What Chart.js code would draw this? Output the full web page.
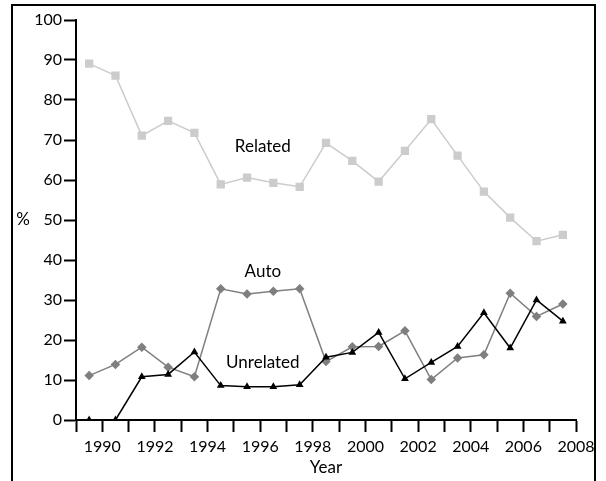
<!DOCTYPE html>
<html>
<head>
<meta charset="utf-8">
<script src="https://cdn.jsdelivr.net/npm/chart.js@4/dist/chart.umd.min.js"></script>
<style>
  html, body { margin: 0; padding: 0; background: #fff; }
  #wrap { width: 606px; height: 481px; position: relative; }
</style>
</head>
<body>
<div id="wrap"><canvas id="chart" width="606" height="481"></canvas></div>
<script>
// Data (points sit mid-year)
const years = [1989.5, 1990.5, 1991.5, 1992.5, 1993.5, 1994.5, 1995.5, 1996.5, 1997.5, 1998.5,
               1999.5, 2000.5, 2001.5, 2002.5, 2003.5, 2004.5, 2005.5, 2006.5, 2007.5];
const related = [89.1, 86.1, 71.1, 74.8, 71.8, 58.9, 60.6, 59.3, 58.3, 69.3,
                 64.8, 59.6, 67.3, 75.2, 66.1, 57.1, 50.6, 44.7, 46.3];
const auto = [11.1, 13.9, 18.2, 13.2, 10.8, 32.8, 31.5, 32.2, 32.8, 14.6,
              18.3, 18.4, 22.3, 10.1, 15.5, 16.3, 31.7, 25.9, 29.0];
const unrelated = [0, 0, 10.8, 11.4, 17.0, 8.6, 8.3, 8.3, 8.8, 15.7,
                   16.9, 21.9, 10.3, 14.4, 18.4, 26.8, 18.0, 30.0, 24.7];

const seriesLabels = [
  { text: 'Related', x: 1996.1, y: 68.3 },
  { text: 'Auto', x: 1996.1, y: 37 },
  { text: 'Unrelated', x: 1996.1, y: 14.3 }
];

const FONT = 'Lato, "DejaVu Sans", sans-serif';

function toPoints(vals) {
  return vals.map((v, i) => ({ x: years[i], y: v }));
}

// frame, in-plot labels, "%" and "Year"
const decor = {
  id: 'decor',
  beforeDraw(chart) {
    const ctx = chart.ctx;
    ctx.save();
    ctx.strokeStyle = '#000';
    ctx.lineWidth = 2;
    ctx.strokeRect(12, 5, 583, 500);
    ctx.restore();
  },
  afterDraw(chart) {
    const ctx = chart.ctx;
    const xs = chart.scales.x, ys = chart.scales.y;
    ctx.save();
    ctx.fillStyle = '#000';
    ctx.font = '17px ' + FONT;
    ctx.textAlign = 'center';
    ctx.textBaseline = 'middle';
    seriesLabels.forEach(l => {
      ctx.fillText(l.text, xs.getPixelForValue(l.x), ys.getPixelForValue(l.y));
    });
    ctx.fillText('%', 23, ys.getPixelForValue(50));
    ctx.fillText('Year', (xs.left + xs.right) / 2, 468);
    ctx.restore();
  }
};

new Chart(document.getElementById('chart'), {
  type: 'line',
  data: {
    datasets: [
      {
        label: 'Unrelated',
        data: toPoints(unrelated),
        borderColor: '#000',
        backgroundColor: '#000',
        borderWidth: 1.5,
        pointStyle: 'triangle',
        pointRadius: 3,
        tension: 0
      },
      {
        label: 'Auto',
        data: toPoints(auto),
        borderColor: '#7f7f7f',
        backgroundColor: '#7f7f7f',
        borderWidth: 1.5,
        pointStyle: 'rectRot',
        pointRadius: 3.7,
        tension: 0
      },
      {
        label: 'Related',
        data: toPoints(related),
        borderColor: '#cccccc',
        backgroundColor: '#cccccc',
        borderWidth: 1.5,
        pointStyle: 'rect',
        pointRadius: 4.8,
        tension: 0
      }
    ]
  },
  options: {
    responsive: false,
    animation: false,
    layout: { padding: { top: 20, right: 30, left: 0, bottom: 0 } },
    plugins: { legend: { display: false }, tooltip: { enabled: false } },
    scales: {
      x: {
        type: 'linear',
        min: 1989,
        max: 2008,
        afterFit: s => { s.height = 61; },
        ticks: {
          stepSize: 1,
          autoSkip: false,
          maxRotation: 0,
          padding: 5,
          color: '#000',
          font: { family: FONT, size: 16 },
          callback: v => (v % 2 === 0 ? String(v) : '')
        },
        grid: { drawOnChartArea: false, tickLength: 12, tickColor: '#000', tickWidth: 2 },
        border: { color: '#000', width: 2 }
      },
      y: {
        min: 0,
        max: 100,
        afterFit: s => { s.width = 76; },
        ticks: {
          stepSize: 10,
          padding: 2,
          color: '#000',
          font: { family: FONT, size: 16 }
        },
        grid: { drawOnChartArea: false, tickLength: 12, tickColor: '#000', tickWidth: 2 },
        border: { color: '#000', width: 2 }
      }
    }
  },
  plugins: [decor]
});
</script>
</body>
</html>
